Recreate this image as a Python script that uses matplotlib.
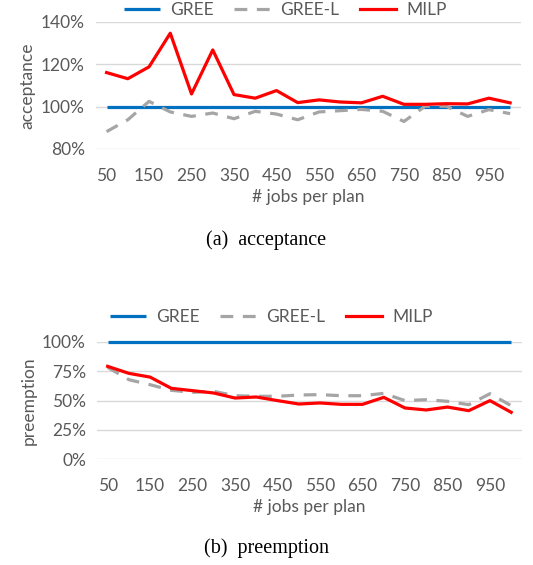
import matplotlib.pyplot as plt
import numpy as np

plt.rcParams['font.family'] = ['Lato', 'DejaVu Sans']

jobs = list(range(50, 1001, 50))
tick_labels = [str(j) for j in jobs[::2]]

# acceptance (%)
acc_gree = [100] * 20
acc_greel = [88.2, 93.8, 102.5, 97.5, 95.4, 97.0, 94.3, 97.8, 96.5, 93.8,
             97.5, 98.1, 98.7, 97.8, 93.0, 100.2, 100.2, 95.4, 98.6, 96.7]
acc_milp = [116.1, 113.2, 118.8, 134.7, 106.0, 126.8, 105.7, 104.0, 107.6, 101.9,
            103.2, 102.2, 101.8, 104.9, 101.1, 101.1, 101.4, 101.3, 104.0, 101.8]

# preemption (%)
pre_gree = [100] * 20
pre_greel = [78.3, 67.8, 63.5, 58.7, 57.0, 57.8, 54.1, 53.6, 53.6, 54.7,
             55.0, 54.1, 54.1, 56.1, 49.9, 50.7, 49.3, 46.4, 55.8, 45.6]
pre_milp = [79.2, 73.2, 70.0, 60.4, 58.4, 56.4, 52.1, 53.0, 49.9, 47.0,
            47.9, 46.7, 46.7, 52.7, 43.6, 41.9, 44.4, 41.3, 49.9, 39.9]

txt = '#595959'
fig = plt.figure(figsize=(5.33, 5.65), dpi=100)


def draw(ax, gree, greel, milp, yticks, ylabel, legend_y, legend_x):
    x = np.arange(len(jobs))
    l1, = ax.plot(x, gree, color='#0070C0', lw=2.3, clip_on=False, solid_capstyle='butt')
    l2, = ax.plot(x, greel, color='#A5A5A5', lw=2.3, dashes=(4, 3), clip_on=False)
    l3, = ax.plot(x, milp, color='#FF0000', lw=2.3, clip_on=False)
    ax.set_xlim(-0.5, len(jobs) - 0.5)
    ax.set_ylim(yticks[0], yticks[-1])
    ax.set_yticks(yticks)
    ax.set_yticklabels(['%d%%' % v for v in yticks])
    ax.set_xticks(x[::2])
    ax.set_xticklabels(tick_labels)
    ax.grid(axis='y', color='#D9D9D9', lw=1)
    ax.set_axisbelow(True)
    for s in ax.spines.values():
        s.set_visible(False)
    ax.tick_params(length=0, labelsize=12.5, colors=txt, pad=8)
    ax.tick_params(axis='x', pad=14)
    ax.set_xlabel('# jobs per plan', fontsize=12.5, color=txt, labelpad=3)
    ax.set_ylabel(ylabel, fontsize=12.5, color=txt, labelpad=4)
    fig.legend([l1, l2, l3], ['GREE', 'GREE-L', 'MILP'], loc='center',
               bbox_to_anchor=(legend_x, legend_y), ncol=3, frameon=False,
               fontsize=12.5, labelcolor=txt, handlelength=2.1, columnspacing=1.2,
               handletextpad=0.55)


ax1 = fig.add_axes([0.180, 0.7363, 0.797, 0.2248])
draw(ax1, acc_gree, acc_greel, acc_milp, [80, 100, 120, 140], 'acceptance',
     1 - 10 / 565, 285 / 533)

ax2 = fig.add_axes([0.182, 0.1876, 0.797, 0.2071])
draw(ax2, pre_gree, pre_greel, pre_milp, [0, 25, 50, 75, 100], 'preemption',
     1 - 317 / 565, 271 / 533)

fig.text(0.5, 1 - 240 / 565, '(a)  acceptance', ha='center', va='center',
         family='Liberation Serif', fontsize=14.5)
fig.text(0.5, 1 - 548 / 565, '(b)  preemption', ha='center', va='center',
         family='Liberation Serif', fontsize=14.5)

fig.savefig('out.png', dpi=100)
